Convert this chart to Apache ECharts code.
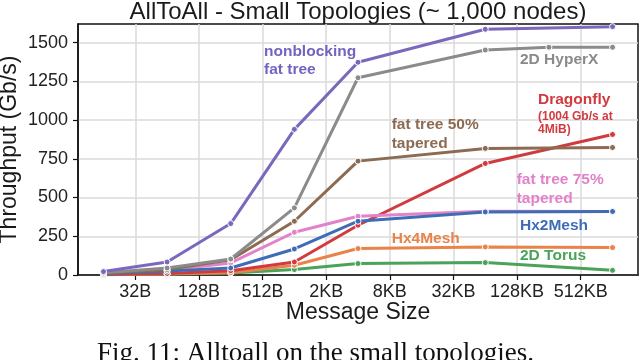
<!DOCTYPE html>
<html><head><meta charset="utf-8">
<script src="https://cdn.jsdelivr.net/npm/echarts@6/dist/echarts.min.js"></script>
<style>html,body{margin:0;padding:0;background:#fff}#c{width:640px;height:360px}</style>
</head><body><div id="c"></div>
<script>
// message sizes (bytes) where measurements were taken
const sizesBytes = [16, 64, 256, 1024, 4096, 65536, 262144, 1048576];
// x tick positions (bytes) and their labels
const tickBytes = [32, 128, 512, 2048, 8192, 32768, 131072, 524288];
const tickLabels = ['32B', '128B', '512B', '2KB', '8KB', '32KB', '128KB', '512KB'];
// y tick values
const yTicks = [0, 250, 500, 750, 1000, 1250, 1500];
// throughput (Gb/s) per topology
const torus      = [2, 5, 13, 35, 74, 80, null, 30];
const hx4mesh    = [3, 8, 15, 63, 171, 181, null, 177];
const dragonfly  = [4, 10, 28, 84, 321, 720, null, 907];
const ft75       = [9, 30, 78, 276, 379, 412, null, 410];
const hx2mesh    = [6, 25, 45, 168, 347, 407, null, 410];
const ft50       = [10, 35, 98, 347, 735, 817, null, 823];
const hyperx     = [14, 45, 103, 433, 1273, 1452, 1470, 1470];
const nonblocking= [22, 84, 332, 940, 1373, 1586, null, 1603];

const lx = sizesBytes.map(b => Math.log2(b));
const tickLx = tickBytes.map(b => Math.log2(b));
function pts(arr) { return arr.map((v, i) => [lx[i], v]).filter(p => p[1] !== null); }

function mk(name, data, color) {
  return {
    name, type: 'line', data: pts(data), symbol: 'circle', symbolSize: 6,
    lineStyle: { color, width: 3 },
    itemStyle: { color, borderColor: '#fff', borderWidth: 1 },
    animation: false, z: 3
  };
}

const C = {
  torus: '#4aa35a', hx4: '#e8834a', dfly: '#d13b3f', ft75: '#e183c9',
  hx2: '#3f6db5', ft50: '#8c6b52', hyperx: '#8b8b8b', nb: '#7b68bd'
};

const chart = echarts.init(document.getElementById('c'), null, { renderer: 'canvas' });
const FS = 'Liberation Sans, Arial, sans-serif';

function lbl(text, x, y, color, size) {
  return { type: 'text', x, y, z: 10, style: { text, fill: color, font: 'bold ' + (size || 15.5) + 'px ' + FS, align: 'left', verticalAlign: 'middle' } };
}

chart.setOption({
  animation: false,
  grid: { left: 78, right: 2, top: 24, bottom: 85, show: true, borderColor: '#111', borderWidth: 1.5, containLabel: false },
  xAxis: {
    type: 'value', min: Math.log2(16) - 0.8, max: Math.log2(1048576) + 0.8,
    axisLine: { show: true, lineStyle: { color: '#111', width: 1.5 } },
    axisTick: { show: true, length: 5, lineStyle: { color: '#111', width: 1.2 }, customValues: tickLx },
    axisLabel: {
      customValues: tickLx, margin: 8, color: '#222', fontSize: 18, fontFamily: FS,
      formatter: v => { const i = tickLx.findIndex(t => Math.abs(t - v) < 1e-6); return i >= 0 ? tickLabels[i] : ''; }
    },
    splitLine: { show: true, lineStyle: { color: '#dadada', width: 1.5 } }
  },
  yAxis: {
    type: 'value', min: 0, max: 1620,
    axisLine: { show: true, lineStyle: { color: '#111', width: 1.5 } },
    axisTick: { show: true, length: 5, lineStyle: { color: '#111', width: 1.2 }, customValues: yTicks },
    axisLabel: { customValues: yTicks, margin: 10, color: '#222', fontSize: 18, fontFamily: FS, formatter: v => String(Math.round(v)) },
    splitLine: { show: true, lineStyle: { color: '#dadada', width: 1.5 } }
  },
  series: [
    mk('2D Torus', torus, C.torus),
    mk('Hx4Mesh', hx4mesh, C.hx4),
    mk('Dragonfly', dragonfly, C.dfly),
    mk('fat tree 75% tapered', ft75, C.ft75),
    mk('Hx2Mesh', hx2mesh, C.hx2),
    mk('fat tree 50% tapered', ft50, C.ft50),
    mk('2D HyperX', hyperx, C.hyperx),
    mk('nonblocking fat tree', nonblocking, C.nb)
  ],
  graphic: [
    { type: 'text', x: 358, y: 12, z: 10, style: { text: 'AllToAll - Small Topologies (~ 1,000 nodes)', fill: '#1a1a1a', font: '24px ' + FS, align: 'center', verticalAlign: 'middle' } },
    { type: 'text', x: 10, y: 149.5, rotation: Math.PI / 2, z: 10, style: { text: 'Throughput (Gb/s)', fill: '#1a1a1a', font: '23px ' + FS, align: 'center', verticalAlign: 'middle' } },
    { type: 'text', x: 358, y: 313, z: 10, style: { text: 'Message Size', fill: '#1a1a1a', font: '23px ' + FS, align: 'center', verticalAlign: 'middle' } },
    { type: 'text', x: 97, y: 353.5, z: 10, style: { text: 'Fig. 11: Alltoall on the small topologies.', fill: '#111', font: '27px Liberation Serif, Times New Roman, serif', align: 'left', verticalAlign: 'middle' } },
    lbl('nonblocking', 264, 51.7, '#7463c2'),
    lbl('fat tree', 264, 70, '#7463c2'),
    lbl('2D HyperX', 520, 59.3, '#8a8a8a'),
    lbl('Dragonfly', 538, 99.3, '#d13b3f'),
    lbl('(1004 Gb/s at', 538, 116.7, '#d13b3f', 12),
    lbl('4MiB)', 538, 130, '#d13b3f', 12),
    lbl('fat tree 50%', 391.7, 125, '#8c6b52'),
    lbl('tapered', 391.7, 143.3, '#8c6b52'),
    lbl('fat tree 75%', 516.7, 180, '#e183c9'),
    lbl('tapered', 516.7, 198.3, '#e183c9'),
    lbl('Hx2Mesh', 520, 225.7, '#3f6db5'),
    lbl('Hx4Mesh', 391.7, 238.3, '#e8834a'),
    lbl('2D Torus', 520, 256, '#4aa35a')
  ]
});
</script></body></html>
